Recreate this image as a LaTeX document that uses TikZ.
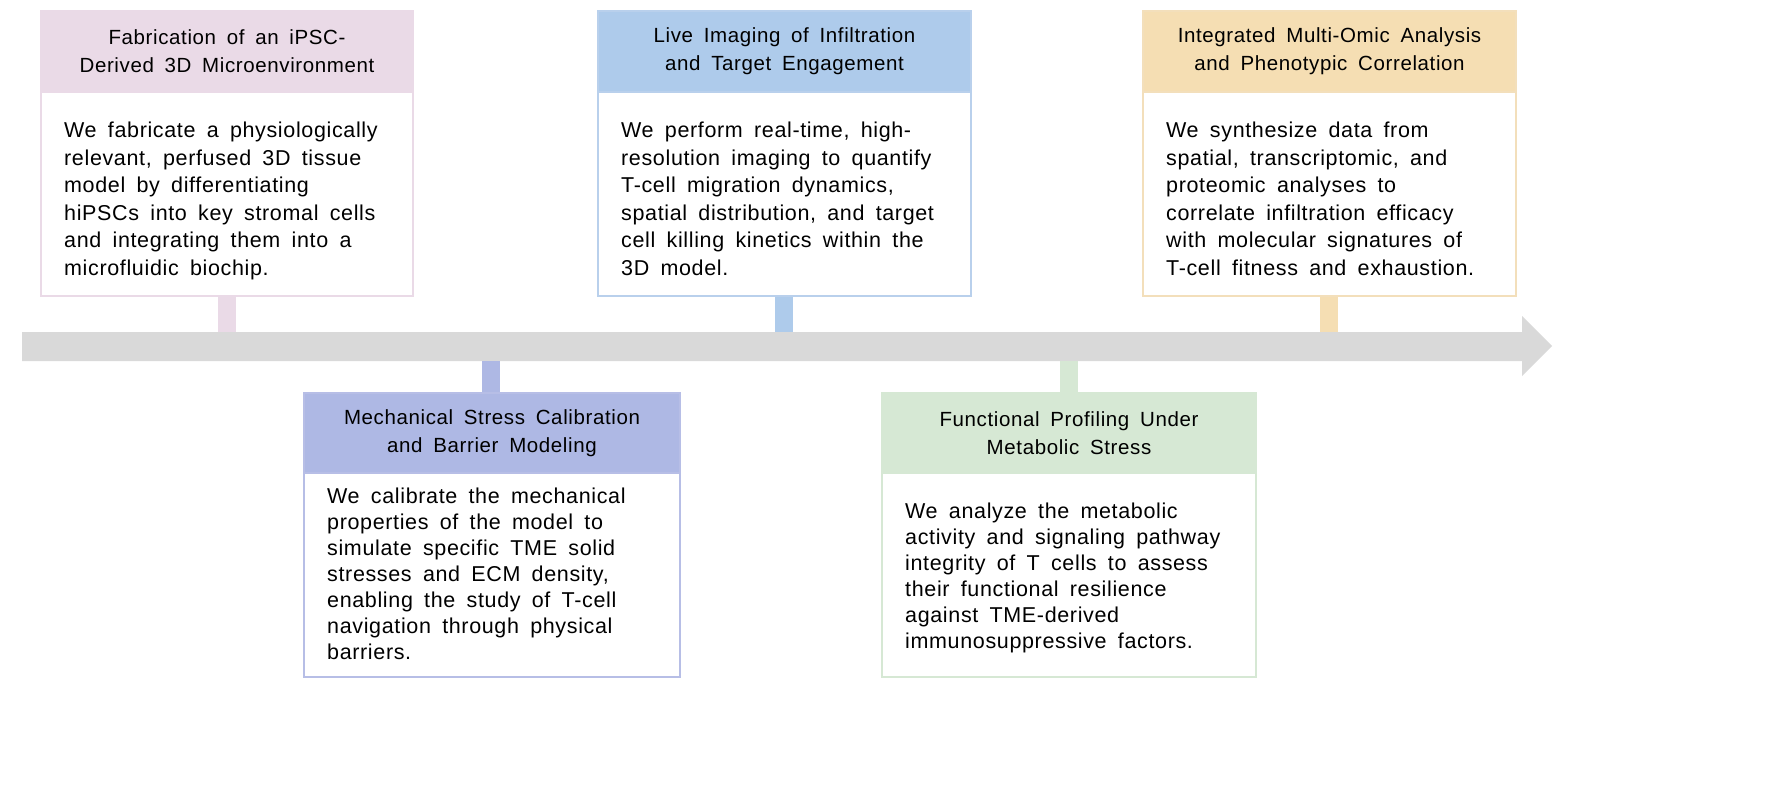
\documentclass[tikz,border=0pt]{standalone}
\usepackage{fontspec}
\setmainfont{Liberation Sans}[WordSpace={1.7},LetterSpace=3]
\begin{document}
\begin{tikzpicture}[x=1pt,y=-1pt,
  hdr/.style={font=\fontsize{20.5}{28}\selectfont,align=center,inner sep=0,anchor=center},
  body/.style={font=\fontsize{21.5}{27.5}\selectfont,align=left,inner sep=0,anchor=north west},
  bodyb/.style={font=\fontsize{21.5}{26}\selectfont,align=left,inner sep=0,anchor=north west},
  frame/.style={line width=2pt}]
\definecolor{pinkH}{HTML}{EADAE7}\definecolor{pinkB}{HTML}{EADAE7}
\definecolor{blueH}{HTML}{AECBEB}\definecolor{blueB}{HTML}{B9D0EC}
\definecolor{lavH}{HTML}{AEB8E4}\definecolor{lavB}{HTML}{B7BEE6}
\definecolor{greenH}{HTML}{D6E8D4}\definecolor{greenB}{HTML}{D6E8D4}
\definecolor{orH}{HTML}{F5DEB3}\definecolor{orB}{HTML}{F3DFBB}
\definecolor{arr}{HTML}{D9D9D9}
\useasboundingbox (0,0) rectangle (1788,793);
% arrow
\fill[arr] (22,332) -- (1522,332) -- (1522,316) -- (1552,346) -- (1522,376) -- (1522,361) -- (22,361) -- cycle;
% stubs
\fill[pinkH] (218,296) rectangle (236,332);
\fill[blueH] (775,296) rectangle (793,332);
\fill[orH] (1320,296) rectangle (1338,332);
\fill[lavH] (482,361) rectangle (500,393);
\fill[greenH] (1060,361) rectangle (1078,393);
% boxes
\newcommand\tlbox[9]{% x1 y1 x2 yh y2 col colB name offset
  \fill[#6] (#1,#2) rectangle (#3,#4);
  \draw[frame,#7] (#1,#2) rectangle (#3,#5);
  \draw[frame,#7] (#1,#4) -- (#3,#4);
  \coordinate (#8h) at ({(#1+#3)/2},{(#2+#4)/2});
  \coordinate (#8b) at ({#1+23},{#4+#9});}
\tlbox{41}{11}{413}{92}{296}{pinkH}{pinkB}{a}{30}
\tlbox{598}{11}{971}{92}{296}{blueH}{blueB}{c}{30}
\tlbox{1143}{11}{1516}{92}{296}{orH}{orB}{e}{30}
\tlbox{304}{393}{680}{473}{677}{lavH}{lavB}{b}{15}
\tlbox{882}{393}{1256}{473}{677}{greenH}{greenB}{d}{30}
\node[hdr] (ah) at (ah) {Fabrication of an iPSC-\\Derived 3D Microenvironment};
\node[hdr] (ch) at (ch) {Live Imaging of Infiltration\\and Target Engagement};
\node[hdr] (eh) at (eh) {Integrated Multi-Omic Analysis\\and Phenotypic Correlation};
\node[hdr] (bh) at (bh) {Mechanical Stress Calibration\\and Barrier Modeling};
\node[hdr] (dh) at (dh) {Functional Profiling Under\\Metabolic Stress};
\node[body] (ab) at (ab) {We fabricate a physiologically\\relevant, perfused 3D tissue\\model by differentiating\\hiPSCs into key stromal cells\\and integrating them into a\\microfluidic biochip.};
\node[body] (cb) at (cb) {We perform real-time, high-\\resolution imaging to quantify\\T-cell migration dynamics,\\spatial distribution, and target\\cell killing kinetics within the\\3D model.};
\node[body] (eb) at (eb) {We synthesize data from\\spatial, transcriptomic, and\\proteomic analyses to\\correlate infiltration efficacy\\with molecular signatures of\\T-cell fitness and exhaustion.};
\node[bodyb] (bb) at (bb) {We calibrate the mechanical\\properties of the model to\\simulate specific TME solid\\stresses and ECM density,\\enabling the study of T-cell\\navigation through physical\\barriers.};
\node[bodyb] (db) at (db) {We analyze the metabolic\\activity and signaling pathway\\integrity of T cells to assess\\their functional resilience\\against TME-derived\\immunosuppressive factors.};
\end{tikzpicture}
\end{document}
